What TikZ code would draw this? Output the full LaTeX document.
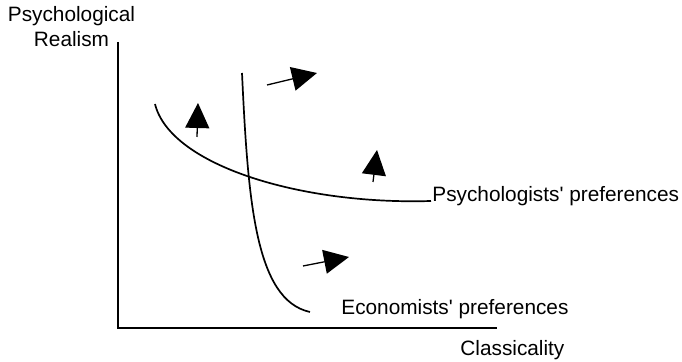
\documentclass[tikz,border=0pt]{standalone}
\usepackage{fontspec}
\setmainfont{Liberation Sans}
\usetikzlibrary{arrows.meta,positioning}
\tikzset{
    axis/.style = {
        line width=0.6pt,
        },
    pref curve/.style = {
        line width=0.85pt,
        },
    push/.style = {
        line width=0.65pt,
        -{Triangle[length=12.5pt, width=12pt]},
        },
    label/.style = {
        inner sep=0pt,
        font=\fontsize{10.4}{12.5}\selectfont,
        },
}

\begin{document}
\begin{tikzpicture}[x=0.5pt, y=-0.5pt]
            \useasboundingbox (0,0) rectangle (682,362);

            \coordinate (O) at (118,328);
            \coordinate (Ytop) at (118,42);
            \coordinate (Xend) at (497,328);

            \draw[axis] (Ytop) -- (O) -- (Xend);

            \node[label, anchor=north, align=center] (ylab) at (71.5,6) {Psychological\\Realism};
            \node[label, anchor=base west] (xlab) at (460,356) {Classicality};

            \coordinate (P0) at (155,104);
            \coordinate (P1) at (431,201);
            \coordinate (E0) at (242,73);
            \coordinate (E1) at (310,312);

            \draw[pref curve] (P0) .. controls (170,165) and (300,205) .. (P1);
            \draw[pref curve] (E0) .. controls (248,200) and (255,300) .. (E1);

            \node[label, anchor=base west] (psy) at (432,202) {Psychologists\textquotesingle{} preferences};
            \node[label, anchor=base west] (eco) at (341,315) {Economists\textquotesingle{} preferences};

            \coordinate (a1) at (197,137);
            \coordinate (b1) at (198,103);
            \coordinate (a2) at (267,85);
            \coordinate (b2) at (317,73);
            \coordinate (a3) at (373,182);
            \coordinate (b3) at (377,150);
            \coordinate (a4) at (303,266);
            \coordinate (b4) at (349,257);

            \draw[push] (a1) -- (b1);
            \draw[push] (a2) -- (b2);
            \draw[push] (a3) -- (b3);
            \draw[push] (a4) -- (b4);
        \end{tikzpicture}
\end{document}
